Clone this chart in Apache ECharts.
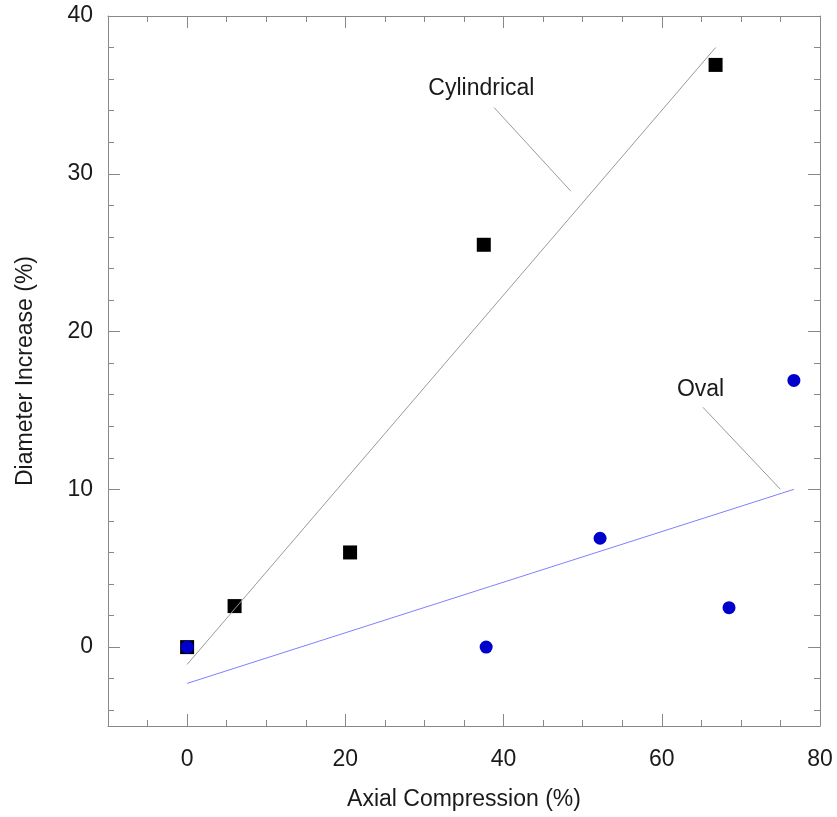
<!DOCTYPE html>
<html>
<head>
<meta charset="utf-8">
<script src="https://cdn.jsdelivr.net/npm/echarts@6/dist/echarts.min.js"></script>
<style>
  html, body { margin: 0; padding: 0; background: #fff; }
  #chart { width: 837px; height: 817px; }
</style>
</head>
<body>
<div id="chart"></div>
<script>
// measured points
const cylindricalPts = [[0, 0], [6.0, 2.6], [20.6, 6.0], [37.5, 25.5], [66.8, 36.9]];
const ovalPts = [[0, 0], [37.8, 0], [52.2, 6.9], [68.5, 2.5], [76.7, 16.9]];

// fitted lines (end points)
const cylindricalFit = [[0, -1.1], [66.8, 38.0]];
const ovalFit = [[0, -2.3], [76.7, 10.0]];

// annotations
const cylLeader = [[38.8, 34.2], [48.5, 28.9]];
const ovalLeader = [[65.2, 15.2], [75.0, 10.0]];
const noteLabels = [
  { name: 'Cylindrical', value: [37.2, 35.4] },
  { name: 'Oval', value: [64.9, 16.3] }
];

// ticks
const xMajor = [0, 20, 40, 60, 80];
const xMinor = [-5, 0, 5, 10, 15, 20, 25, 30, 35, 40, 45, 50, 55, 60, 65, 70, 75];
const yMajor = [0, 10, 20, 30, 40];
const yMinor = [-4, -2, 0, 2, 4, 6, 8, 10, 12, 14, 16, 18, 20, 22, 24, 26, 28, 30, 32, 34, 36, 38];

const axisGray = '#888888';
const font = 'Liberation Sans, Arial, sans-serif';
const fontSize = 23;

function tickAxis(pos, isX, ticks, len, showLine, showLabel, extra) {
  const ax = {
    type: 'value',
    position: pos,
    min: isX ? -10 : -5,
    max: isX ? 80 : 40,
    axisLine: { show: showLine, onZero: false, lineStyle: { color: axisGray, width: 1 } },
    axisTick: { show: true, inside: true, length: len, customValues: ticks, lineStyle: { color: axisGray, width: 1 } },
    axisLabel: showLabel
      ? { show: true, customValues: ticks, color: '#1a1a1a', fontSize: fontSize, fontFamily: font, margin: isX ? 22 : 15 }
      : { show: false },
    splitLine: { show: false }
  };
  return Object.assign(ax, extra || {});
}

const chart = echarts.init(document.getElementById('chart'));

chart.setOption({
  backgroundColor: '#fff',
  animation: false,
  grid: { left: 108, right: 17, top: 16, bottom: 91 },
  xAxis: [
    tickAxis('bottom', true, xMajor, 12, true, true, {
      name: 'Axial Compression (%)', nameLocation: 'middle', nameGap: 62,
      nameTextStyle: { color: '#1a1a1a', fontSize: fontSize, fontFamily: font }
    }),
    tickAxis('bottom', true, xMinor, 6, false, false),
    tickAxis('top', true, xMajor, 12, true, false),
    tickAxis('top', true, xMinor, 6, false, false)
  ],
  yAxis: [
    tickAxis('left', false, yMajor, 12, true, true, {
      name: 'Diameter Increase (%)', nameLocation: 'middle', nameGap: 71,
      nameTextStyle: { color: '#1a1a1a', fontSize: fontSize, fontFamily: font }
    }),
    tickAxis('left', false, yMinor, 6, false, false),
    tickAxis('right', false, yMajor, 12, true, false),
    tickAxis('right', false, yMinor, 6, false, false)
  ],
  series: [
    {
      type: 'line', data: cylindricalFit, symbol: 'none', silent: true,
      lineStyle: { color: '#9a9a9a', width: 1 }
    },
    {
      type: 'line', data: ovalFit, symbol: 'none', silent: true,
      lineStyle: { color: '#8080ff', width: 1 }
    },
    {
      type: 'line', data: cylLeader, symbol: 'none', silent: true,
      lineStyle: { color: '#9a9a9a', width: 1 }
    },
    {
      type: 'line', data: ovalLeader, symbol: 'none', silent: true,
      lineStyle: { color: '#9a9a9a', width: 1 }
    },
    {
      type: 'scatter', data: cylindricalPts, symbol: 'rect', symbolSize: 14,
      itemStyle: { color: '#000', borderWidth: 0, opacity: 1 }
    },
    {
      type: 'scatter', data: ovalPts, symbol: 'circle', symbolSize: 13,
      itemStyle: { color: '#0000cc', opacity: 1 }
    },
    {
      type: 'scatter', data: noteLabels, symbolSize: 0, silent: true,
      itemStyle: { opacity: 1 },
      label: {
        show: true, position: 'inside', formatter: p => p.name,
        color: '#1a1a1a', opacity: 1, fontSize: fontSize, fontFamily: font
      }
    }
  ]
});
</script>
</body>
</html>
